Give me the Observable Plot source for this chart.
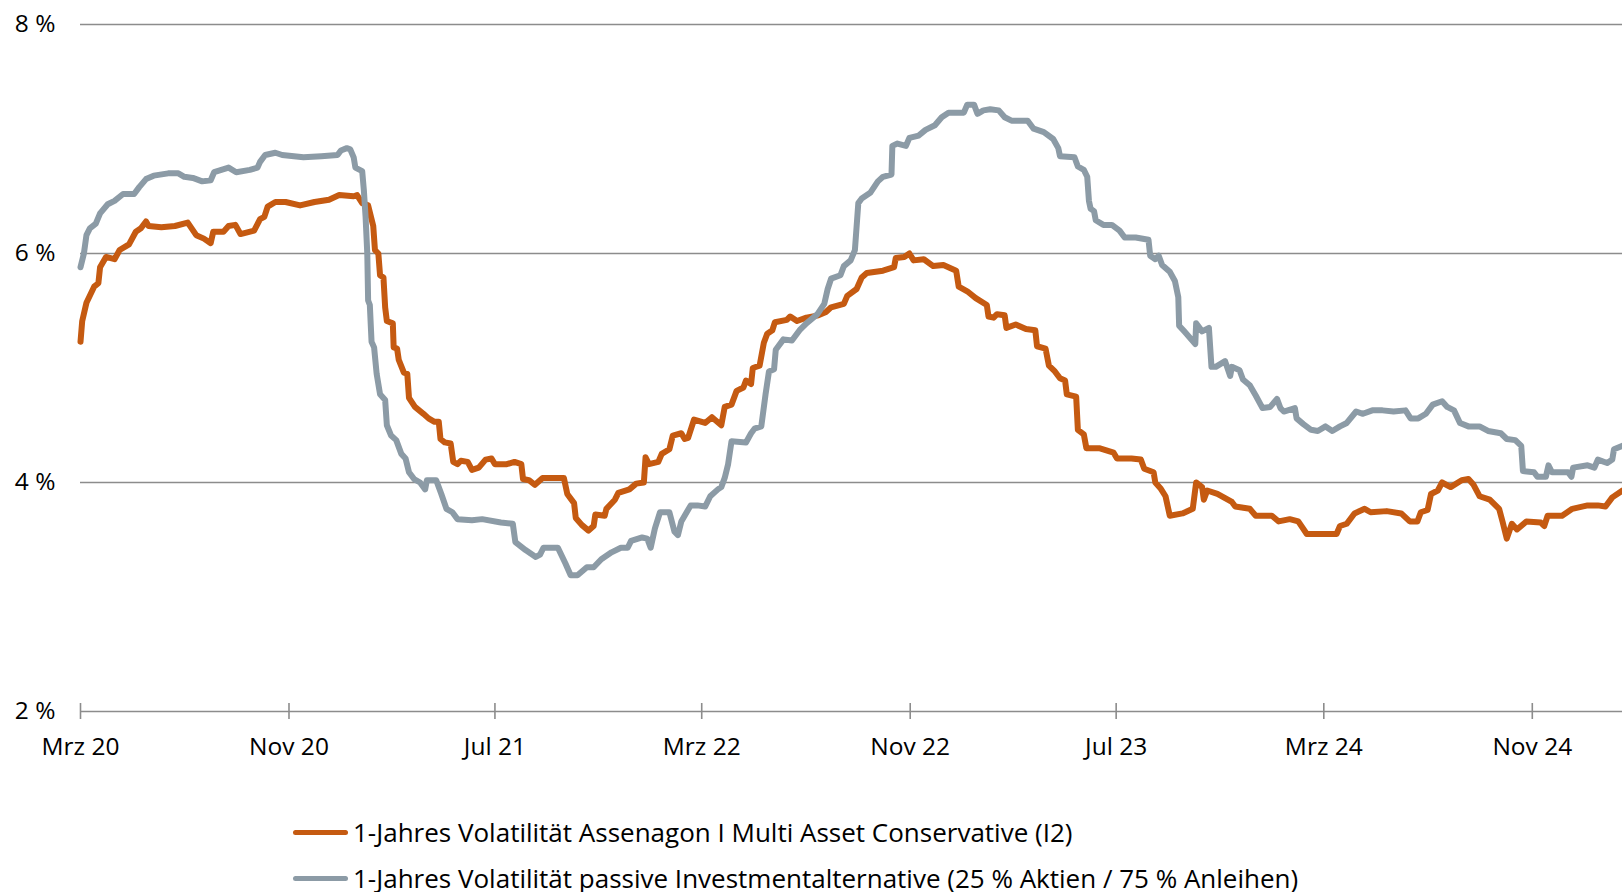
<!DOCTYPE html>
<html>
<head>
<meta charset="utf-8">
<script src="https://cdn.jsdelivr.net/npm/d3@7"></script>
<script src="https://cdn.jsdelivr.net/npm/@observablehq/plot@0.6"></script>
<style>
  body { margin: 0; background: #fff; font-family: "Open Sans", sans-serif; }
  #wrap { position: relative; width: 1622px; height: 892px; overflow: hidden; background: #fff; }
  #legend { position: absolute; left: 293px; top: 809px; font-size: 26px; color: #000; }
  .row { display: flex; align-items: center; height: 46px; white-space: nowrap; }
  .sw { width: 55px; height: 5px; border-radius: 3px; margin-right: 5px; flex: none; }
</style>
</head>
<body>
<div id="wrap"><div id="chart"></div><div id="legend"></div></div>
<script>
// ---- data ----
const seriesNames = [
  "1-Jahres Volatilität Assenagon I Multi Asset Conservative (I2)",
  "1-Jahres Volatilität passive Investmentalternative (25 % Aktien / 75 % Anleihen)"
];
const seriesColors = ["#C55A11", "#8C9BA6"];

const xDomain = ["2020-03-01", "2025-02-15"];
const xTickDates = ["2020-03-01","2020-11-01","2021-07-01","2022-03-01","2022-11-01","2023-07-01","2024-03-01","2024-11-01"];
const xTickLabels = ["Mrz 20","Nov 20","Jul 21","Mrz 22","Nov 22","Jul 23","Mrz 24","Nov 24"];
const yTicks = [2, 4, 6, 8];

const assenagon = [
["2020-03-01",5.23],["2020-03-03",5.41],["2020-03-08",5.57],["2020-03-17",5.71],["2020-03-22",5.74],["2020-03-24",5.88],
["2020-03-31",5.97],["2020-04-10",5.95],["2020-04-16",6.03],["2020-04-27",6.08],["2020-05-05",6.19],["2020-05-11",6.22],
["2020-05-17",6.28],["2020-05-20",6.24],["2020-06-04",6.23],["2020-06-20",6.24],["2020-07-05",6.27],["2020-07-15",6.16],
["2020-07-24",6.13],["2020-08-01",6.09],["2020-08-04",6.19],["2020-08-16",6.19],["2020-08-22",6.24],["2020-08-30",6.25],
["2020-09-05",6.17],["2020-09-21",6.20],["2020-09-28",6.30],["2020-10-03",6.32],["2020-10-07",6.41],["2020-10-16",6.45],
["2020-10-28",6.45],["2020-11-14",6.42],["2020-12-01",6.45],["2020-12-18",6.47],["2020-12-30",6.51],["2021-01-16",6.50],
["2021-01-20",6.51],["2021-01-26",6.44],["2021-02-02",6.42],["2021-02-08",6.24],["2021-02-10",6.03],["2021-02-14",6.00],
["2021-02-16",5.81],["2021-02-20",5.79],["2021-02-22",5.53],["2021-02-24",5.41],["2021-03-03",5.39],["2021-03-04",5.18],
["2021-03-08",5.17],["2021-03-10",5.07],["2021-03-16",4.96],["2021-03-20",4.95],["2021-03-22",4.74],["2021-03-29",4.66],
["2021-04-08",4.60],["2021-04-14",4.56],["2021-04-21",4.53],["2021-04-26",4.53],["2021-04-28",4.38],["2021-05-03",4.35],
["2021-05-10",4.34],["2021-05-13",4.18],["2021-05-18",4.16],["2021-05-22",4.19],["2021-05-30",4.18],["2021-06-04",4.11],
["2021-06-12",4.13],["2021-06-20",4.20],["2021-06-27",4.21],["2021-07-01",4.16],["2021-07-15",4.16],["2021-07-24",4.18],
["2021-08-01",4.16],["2021-08-03",4.03],["2021-08-10",4.02],["2021-08-17",3.98],["2021-08-26",4.04],["2021-09-05",4.04],
["2021-09-20",4.04],["2021-09-24",3.90],["2021-10-02",3.82],["2021-10-04",3.69],["2021-10-11",3.63],["2021-10-19",3.58],
["2021-10-25",3.62],["2021-10-27",3.72],["2021-11-07",3.71],["2021-11-09",3.77],["2021-11-19",3.85],["2021-11-23",3.91],
["2021-12-06",3.94],["2021-12-14",3.99],["2021-12-23",4.00],["2021-12-25",4.22],["2021-12-29",4.16],["2022-01-09",4.18],
["2022-01-13",4.25],["2022-01-22",4.29],["2022-01-26",4.41],["2022-02-05",4.43],["2022-02-09",4.38],["2022-02-13",4.39],
["2022-02-20",4.55],["2022-03-05",4.52],["2022-03-13",4.57],["2022-03-24",4.50],["2022-03-28",4.66],["2022-04-05",4.68],
["2022-04-11",4.80],["2022-04-19",4.83],["2022-04-22",4.89],["2022-04-28",4.86],["2022-04-30",5.00],["2022-05-08",5.02],
["2022-05-13",5.22],["2022-05-17",5.30],["2022-05-23",5.33],["2022-05-26",5.40],["2022-06-09",5.42],["2022-06-13",5.45],
["2022-06-21",5.41],["2022-07-02",5.44],["2022-07-16",5.46],["2022-07-25",5.49],["2022-07-31",5.53],["2022-08-15",5.56],
["2022-08-19",5.63],["2022-08-30",5.69],["2022-09-05",5.79],["2022-09-11",5.83],["2022-09-30",5.85],["2022-10-13",5.88],
["2022-10-15",5.96],["2022-10-25",5.97],["2022-10-31",6.00],["2022-11-05",5.94],["2022-11-17",5.95],["2022-11-28",5.89],
["2022-12-10",5.90],["2022-12-25",5.85],["2022-12-28",5.71],["2023-01-07",5.67],["2023-01-17",5.61],["2023-01-30",5.55],
["2023-02-01",5.45],["2023-02-07",5.44],["2023-02-11",5.47],["2023-02-20",5.46],["2023-02-22",5.35],["2023-03-05",5.38],
["2023-03-17",5.34],["2023-03-28",5.33],["2023-03-30",5.19],["2023-04-09",5.17],["2023-04-13",5.02],["2023-04-20",4.97],
["2023-04-26",4.91],["2023-05-02",4.89],["2023-05-04",4.77],["2023-05-15",4.75],["2023-05-17",4.46],["2023-05-24",4.42],
["2023-05-27",4.30],["2023-06-11",4.30],["2023-06-28",4.26],["2023-07-02",4.21],["2023-07-19",4.21],["2023-07-30",4.20],
["2023-08-03",4.12],["2023-08-14",4.09],["2023-08-16",4.00],["2023-08-22",3.95],["2023-08-28",3.88],["2023-09-02",3.71],
["2023-09-17",3.73],["2023-09-29",3.77],["2023-10-03",4.00],["2023-10-10",3.96],["2023-10-12",3.85],["2023-10-16",3.93],
["2023-10-28",3.90],["2023-11-14",3.83],["2023-11-18",3.79],["2023-12-05",3.77],["2023-12-12",3.71],["2023-12-31",3.71],
["2024-01-08",3.66],["2024-01-21",3.68],["2024-01-31",3.66],["2024-02-10",3.55],["2024-02-23",3.55],["2024-03-16",3.55],
["2024-03-20",3.62],["2024-03-28",3.64],["2024-04-06",3.73],["2024-04-18",3.77],["2024-04-25",3.74],["2024-05-14",3.75],
["2024-05-31",3.73],["2024-06-10",3.66],["2024-06-19",3.66],["2024-06-23",3.74],["2024-07-01",3.76],["2024-07-05",3.90],
["2024-07-13",3.93],["2024-07-18",4.00],["2024-07-28",3.96],["2024-08-10",4.02],["2024-08-18",4.03],["2024-08-24",3.98],
["2024-08-31",3.88],["2024-09-12",3.85],["2024-09-23",3.77],["2024-09-27",3.66],["2024-10-02",3.51],["2024-10-08",3.64],
["2024-10-14",3.59],["2024-10-25",3.66],["2024-11-11",3.65],["2024-11-15",3.62],["2024-11-19",3.71],["2024-12-06",3.71],
["2024-12-18",3.77],["2025-01-05",3.80],["2025-01-17",3.80],["2025-01-26",3.79],["2025-02-03",3.87],["2025-02-15",3.93]
];

const passive = [
["2020-03-01",5.88],["2020-03-05",6.00],["2020-03-08",6.16],["2020-03-12",6.22],["2020-03-19",6.26],["2020-03-24",6.35],
["2020-04-02",6.43],["2020-04-10",6.46],["2020-04-20",6.52],["2020-05-03",6.52],["2020-05-09",6.58],["2020-05-17",6.65],
["2020-05-26",6.68],["2020-06-12",6.70],["2020-06-24",6.70],["2020-07-01",6.67],["2020-07-11",6.66],["2020-07-22",6.63],
["2020-08-01",6.64],["2020-08-05",6.71],["2020-08-22",6.75],["2020-08-31",6.71],["2020-09-16",6.73],["2020-09-25",6.75],
["2020-09-28",6.80],["2020-10-04",6.86],["2020-10-16",6.88],["2020-10-24",6.86],["2020-11-18",6.84],["2020-12-09",6.85],
["2020-12-28",6.86],["2021-01-01",6.90],["2021-01-08",6.92],["2021-01-12",6.91],["2021-01-16",6.84],["2021-01-18",6.75],
["2021-01-26",6.72],["2021-01-28",6.55],["2021-01-30",6.32],["2021-02-01",6.00],["2021-02-02",5.59],["2021-02-04",5.55],
["2021-02-06",5.23],["2021-02-09",5.18],["2021-02-12",4.95],["2021-02-16",4.77],["2021-02-22",4.72],["2021-02-24",4.50],
["2021-03-01",4.41],["2021-03-07",4.37],["2021-03-13",4.25],["2021-03-18",4.21],["2021-03-22",4.09],["2021-03-28",4.03],
["2021-04-04",4.00],["2021-04-10",3.94],["2021-04-12",4.02],["2021-04-23",4.02],["2021-04-29",3.90],["2021-05-05",3.77],
["2021-05-12",3.74],["2021-05-18",3.68],["2021-06-04",3.67],["2021-06-16",3.68],["2021-07-08",3.65],["2021-07-22",3.64],
["2021-07-25",3.48],["2021-08-06",3.41],["2021-08-18",3.35],["2021-08-23",3.37],["2021-08-27",3.43],["2021-09-13",3.43],
["2021-09-22",3.29],["2021-09-28",3.19],["2021-10-06",3.19],["2021-10-17",3.26],["2021-10-25",3.26],["2021-11-03",3.33],
["2021-11-15",3.39],["2021-11-26",3.43],["2021-12-04",3.43],["2021-12-08",3.49],["2021-12-21",3.52],["2021-12-27",3.51],
["2021-12-31",3.43],["2022-01-05",3.60],["2022-01-11",3.74],["2022-01-22",3.74],["2022-01-28",3.57],["2022-02-01",3.54],
["2022-02-05",3.66],["2022-02-16",3.80],["2022-02-24",3.80],["2022-03-05",3.79],["2022-03-11",3.88],["2022-03-20",3.94],
["2022-03-24",3.96],["2022-03-28",4.04],["2022-04-01",4.16],["2022-04-05",4.36],["2022-04-22",4.35],["2022-04-28",4.43],
["2022-05-02",4.47],["2022-05-10",4.49],["2022-05-15",4.77],["2022-05-19",4.97],["2022-05-25",4.99],["2022-05-27",5.16],
["2022-06-05",5.25],["2022-06-15",5.24],["2022-06-24",5.33],["2022-07-02",5.39],["2022-07-15",5.47],["2022-07-23",5.56],
["2022-07-27",5.69],["2022-07-31",5.78],["2022-08-11",5.81],["2022-08-15",5.89],["2022-08-23",5.94],["2022-08-28",6.03],
["2022-09-01",6.44],["2022-09-05",6.48],["2022-09-15",6.53],["2022-09-24",6.63],["2022-09-30",6.67],["2022-10-10",6.69],
["2022-10-11",6.94],["2022-10-17",6.96],["2022-10-27",6.94],["2022-10-31",7.01],["2022-11-11",7.03],["2022-11-19",7.08],
["2022-11-30",7.12],["2022-12-08",7.19],["2022-12-16",7.23],["2023-01-03",7.23],["2023-01-07",7.30],["2023-01-15",7.30],
["2023-01-19",7.22],["2023-01-26",7.25],["2023-02-03",7.26],["2023-02-13",7.25],["2023-02-20",7.19],["2023-02-28",7.16],
["2023-03-19",7.16],["2023-03-26",7.09],["2023-04-07",7.06],["2023-04-18",7.00],["2023-04-24",6.92],["2023-04-26",6.85],
["2023-05-13",6.84],["2023-05-17",6.76],["2023-05-24",6.73],["2023-05-28",6.67],["2023-05-30",6.46],["2023-06-01",6.39],
["2023-06-05",6.37],["2023-06-07",6.29],["2023-06-16",6.25],["2023-06-26",6.25],["2023-07-05",6.20],["2023-07-11",6.14],
["2023-07-24",6.14],["2023-08-08",6.12],["2023-08-10",5.98],["2023-08-16",5.95],["2023-08-20",5.98],["2023-08-24",5.90],
["2023-09-02",5.84],["2023-09-08",5.76],["2023-09-12",5.62],["2023-09-13",5.37],["2023-09-19",5.32],["2023-10-02",5.21],
["2023-10-03",5.39],["2023-10-10",5.32],["2023-10-18",5.35],["2023-10-21",5.01],["2023-10-26",5.01],["2023-11-06",5.06],
["2023-11-12",4.93],["2023-11-14",5.01],["2023-11-23",4.98],["2023-11-27",4.90],["2023-12-05",4.85],["2023-12-12",4.76],
["2023-12-20",4.65],["2023-12-29",4.66],["2024-01-06",4.73],["2024-01-10",4.65],["2024-01-14",4.62],["2024-01-27",4.65],
["2024-01-29",4.56],["2024-02-06",4.51],["2024-02-15",4.46],["2024-02-23",4.45],["2024-03-03",4.49],["2024-03-11",4.45],
["2024-03-20",4.49],["2024-03-28",4.52],["2024-04-08",4.62],["2024-04-16",4.60],["2024-04-27",4.63],["2024-05-09",4.63],
["2024-05-22",4.62],["2024-06-05",4.63],["2024-06-11",4.56],["2024-06-20",4.56],["2024-06-29",4.60],["2024-07-07",4.68],
["2024-07-18",4.71],["2024-07-24",4.66],["2024-08-01",4.63],["2024-08-08",4.52],["2024-08-18",4.49],["2024-08-31",4.49],
["2024-09-10",4.45],["2024-09-25",4.43],["2024-10-02",4.38],["2024-10-12",4.37],["2024-10-19",4.32],["2024-10-21",4.10],
["2024-11-03",4.09],["2024-11-07",4.05],["2024-11-17",4.05],["2024-11-20",4.15],["2024-11-24",4.09],["2024-12-13",4.09],
["2024-12-17",4.05],["2024-12-19",4.13],["2025-01-05",4.15],["2025-01-13",4.13],["2025-01-17",4.20],["2025-01-28",4.17],
["2025-02-03",4.20],["2025-02-05",4.29],["2025-02-15",4.32]
];

// ---- build ----
const parse = d3.utcParse("%Y-%m-%d");
const toRows = (arr) => arr.map(([d, v]) => ({date: parse(d), value: v}));
const rowsA = toRows(assenagon);
const rowsP = toRows(passive);
const tickDates = xTickDates.map(parse);
const labelByTime = new Map(tickDates.map((d, i) => [+d, xTickLabels[i]]));
const gridColor = "#8c8c8c";

const chart = Plot.plot({
  width: 1622,
  height: 760,
  marginLeft: 80,
  marginRight: 0,
  marginTop: 24,
  marginBottom: 49,
  style: {fontFamily: '"Open Sans", sans-serif', fontSize: "24.5px", color: "#000", background: "#fff", overflow: "visible"},
  x: {type: "utc", domain: xDomain.map(parse), label: null},
  y: {domain: [yTicks[0], yTicks[yTicks.length - 1]], label: null},
  marks: [
    Plot.ruleY(yTicks, {stroke: gridColor, strokeWidth: 1.6}),
    Plot.ruleX(tickDates, {x: d => d, y1: yTicks[0], y2: yTicks[0], insetTop: -8, insetBottom: -8, stroke: gridColor, strokeWidth: 1.6}),
    Plot.axisX({ticks: tickDates, tickFormat: d => labelByTime.get(+d), tickSize: 0, tickPadding: 26, fill: "#000", label: null}),
    Plot.axisY({ticks: yTicks, tickFormat: d => `${d} %`, tickSize: 0, tickPadding: 25, fill: "#000", label: null}),
    Plot.line(rowsA, {x: "date", y: "value", stroke: seriesColors[0], strokeWidth: 6, strokeLinejoin: "round", strokeLinecap: "round"}),
    Plot.line(rowsP, {x: "date", y: "value", stroke: seriesColors[1], strokeWidth: 6, strokeLinejoin: "round", strokeLinecap: "round"})
  ]
});
document.getElementById("chart").append(chart);

const legend = document.getElementById("legend");
seriesNames.forEach((name, i) => {
  const row = document.createElement("div");
  row.className = "row";
  const sw = document.createElement("span");
  sw.className = "sw";
  sw.style.background = seriesColors[i];
  const t = document.createElement("span");
  t.textContent = name;
  row.append(sw, t);
  legend.append(row);
});
</script>
</body>
</html>
